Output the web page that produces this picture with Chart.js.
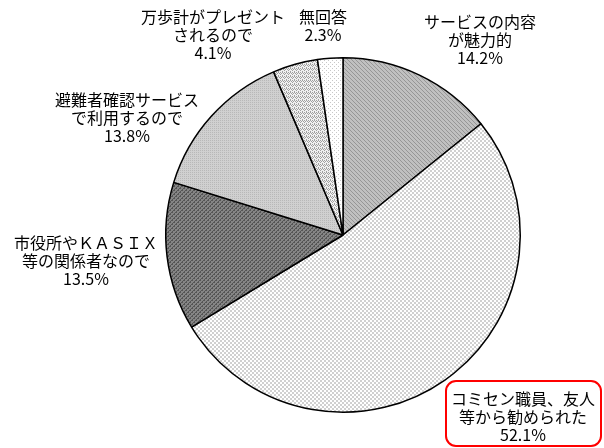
<!DOCTYPE html>
<html lang="ja">
<head>
<meta charset="utf-8">
<title>利用のきっかけ</title>
<script src="https://cdn.jsdelivr.net/npm/chart.js@4.4.0/dist/chart.umd.min.js"></script>
<style>
  html, body { margin: 0; padding: 0; background: #fff; }
  canvas { display: block; }
</style>
</head>
<body>
<canvas id="reasonChart" width="604" height="448"></canvas>
<script>
// Reasons for using the service (percent of respondents), clockwise from 12 o'clock
const categories = [
  'サービスの内容が魅力的',
  'コミセン職員、友人等から勧められた',
  '市役所やＫＡＳＩＸ等の関係者なので',
  '避難者確認サービスで利用するので',
  '万歩計がプレゼントされるので',
  '無回答'
];
const shares = [14.2, 52.1, 13.5, 13.8, 4.1, 2.3];

// How each category name is broken over lines in its label
const labelLines = [
  ['サービスの内容', 'が魅力的'],
  ['コミセン職員、友人', '等から勧められた'],
  ['市役所やＫＡＳＩＸ', '等の関係者なので'],
  ['避難者確認サービス', 'で利用するので'],
  ['万歩計がプレゼント', 'されるので'],
  ['無回答']
];

// Centre of each label block (first line), in canvas pixels
const labelSpots = [
  { x: 480, y: 22 },
  { x: 523, y: 399 },
  { x: 86, y: 243 },
  { x: 127, y: 100 },
  { x: 213, y: 17 },
  { x: 323, y: 17 }
];

// Small tiles used as monochrome fill patterns
function makeTile(size, base, ink, dots) {
  const c = document.createElement('canvas');
  c.width = size;
  c.height = size;
  const g = c.getContext('2d');
  g.fillStyle = base;
  g.fillRect(0, 0, size, size);
  g.fillStyle = ink;
  dots.forEach(([x, y]) => g.fillRect(x, y, 1, 1));
  return g.createPattern(c, 'repeat');
}

const ctx = document.getElementById('reasonChart').getContext('2d');

const fills = [
  // fine diagonal, mid grey
  makeTile(4, '#c0c0c0', '#969696', [[0, 0], [1, 1], [2, 2], [3, 3]]),
  // light checkerboard
  makeTile(4, '#ffffff', '#d0d0d0', [[0, 0], [1, 0], [0, 1], [1, 1], [2, 2], [3, 2], [2, 3], [3, 3]]),
  // dark diagonal
  makeTile(4, '#858585', '#555555', [[0, 3], [1, 2], [2, 1], [3, 0], [0, 0], [2, 2]]),
  // light grey stipple
  makeTile(2, '#d0d0d0', '#b8b8b8', [[0, 0]]),
  // zigzag
  makeTile(4, '#f0f0f0', '#a0a0a0', [[0, 0], [1, 1], [2, 0], [3, 1], [0, 2], [2, 3]]),
  // sparse dots on white
  makeTile(4, '#ffffff', '#c8c8c8', [[0, 0], [2, 2]])
];

// Draws the outside labels and the highlight box around the largest group
const sliceLabels = {
  id: 'sliceLabels',
  afterDraw(chart) {
    const c = chart.ctx;
    const lineGap = 18;
    c.save();

    // red rounded frame round the largest slice's label
    const big = shares.indexOf(Math.max(...shares));
    const spot = labelSpots[big];
    c.strokeStyle = '#ff0000';
    c.lineWidth = 2;
    c.beginPath();
    c.roundRect(spot.x - 77, spot.y - 18, 155, 65, 10);
    c.stroke();

    c.fillStyle = '#000';
    c.textAlign = 'center';
    c.textBaseline = 'middle';
    c.font = '16px "Noto Sans CJK JP", sans-serif';
    labelLines.forEach((lines, i) => {
      const p = labelSpots[i];
      const rows = lines.concat([shares[i].toFixed(1) + '%']);
      rows.forEach((t, k) => c.fillText(t, p.x, p.y + k * lineGap));
    });
    c.restore();
  }
};

new Chart(ctx, {
  type: 'pie',
  data: {
    labels: categories,
    datasets: [{
      data: shares,
      backgroundColor: fills,
      borderColor: '#000',
      borderWidth: 1.5
    }]
  },
  options: {
    responsive: false,
    animation: false,
    layout: {
      padding: { left: 165, right: 83, top: 57, bottom: 35 }
    },
    plugins: {
      legend: { display: false },
      tooltip: { enabled: false }
    }
  },
  plugins: [sliceLabels]
});
</script>
</body>
</html>
